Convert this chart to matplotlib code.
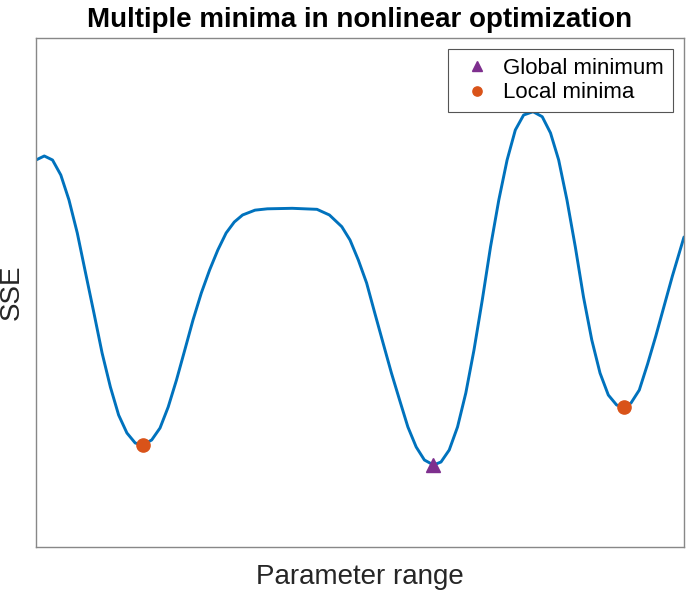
import matplotlib
matplotlib.use("Agg")
import matplotlib.pyplot as plt

plt.rcParams['font.family'] = ['Liberation Sans', 'DejaVu Sans']

# Curve (parameter, SSE) in arbitrary units
param = [0.00, 1.28, 2.55, 3.83, 5.09, 6.37, 7.65, 8.94, 10.20, 11.48, 12.75,
         14.03, 15.31, 16.45, 17.85, 19.14, 20.40, 21.68, 22.96, 24.23, 25.51,
         26.79, 28.06, 29.34, 30.60, 31.88, 33.80, 35.71, 39.54, 43.36, 45.28,
         47.19, 48.46, 49.74, 51.02, 52.28, 53.56, 54.85, 56.11, 57.39, 58.67,
         59.94, 61.34, 62.50, 63.77, 65.05, 66.33, 67.59, 68.87, 70.14, 71.42,
         72.70, 73.97, 75.25, 76.71, 78.12, 79.40, 80.66, 81.94, 83.23, 84.49,
         85.77, 87.04, 88.32, 89.60, 90.68, 91.82, 93.10, 94.38, 95.65, 96.93,
         98.21, 100.00]
sse = [76.03, 76.82, 76.03, 73.08, 68.17, 61.69, 53.83, 45.97, 38.11, 31.43, 25.93,
       22.40, 20.43, 20.04, 21.02, 23.38, 27.50, 32.81, 38.70, 44.60, 49.90,
       54.42, 58.35, 61.69, 63.85, 65.23, 66.18, 66.44, 66.54, 66.34, 65.23,
       62.93, 60.31, 56.39, 51.87, 45.97, 40.08, 34.18, 28.88, 23.58, 19.65,
       17.09, 16.11, 16.70, 19.06, 23.58, 30.26, 38.70, 48.53, 58.94, 68.17,
       76.03, 81.93, 84.87, 85.52, 84.54, 81.34, 76.03, 68.17, 58.94, 49.12,
       40.67, 34.18, 29.86, 27.90, 27.45, 28.29, 30.84, 35.95, 41.45, 47.35,
       53.24, 60.90]

global_x = [61.34]
global_y = [16.11]
local_x = [16.45, 90.68]
local_y = [20.04, 27.45]

title = "Multiple minima in nonlinear optimization"
xlabel = "Parameter range"
ylabel = "SSE"

fig = plt.figure(figsize=(6.88, 5.91), dpi=100)
ax = fig.add_axes([36/688, 44/591, 648/688, 509/591])

ax.plot(param, sse, color=(0, 0.447, 0.741), lw=2.1,
        solid_joinstyle='round', solid_capstyle='round')
ax.plot(global_x, global_y, linestyle='none', marker='^', markersize=10,
        color=(0.494, 0.184, 0.556), label='Global minimum', zorder=3)
ax.plot(local_x, local_y, linestyle='none', marker='o', markersize=9.5,
        color=(0.85, 0.325, 0.098), label='Local minima', zorder=3)

ax.set_xlim(0, 100)
ax.set_ylim(0, 100)
ax.set_xticks([])
ax.set_yticks([])
for s in ax.spines.values():
    s.set_color('#888888')
    s.set_linewidth(1.0)

ax.set_title(title, fontsize=20, fontweight='bold', pad=8)
ax.set_xlabel(xlabel, fontsize=20, color=(0.15, 0.15, 0.15), labelpad=12)
ax.set_ylabel(ylabel, fontsize=20, color=(0.15, 0.15, 0.15), labelpad=8)

leg = ax.legend(loc='upper right', fontsize=16, frameon=True, fancybox=False,
                edgecolor='#555555', framealpha=1, markerscale=0.7,
                handlelength=1.8, handletextpad=0.3, borderpad=0.4,
                labelspacing=0.15, borderaxespad=0.5)
leg.get_frame().set_linewidth(0.8)

fig.savefig('out.png', dpi=100)
